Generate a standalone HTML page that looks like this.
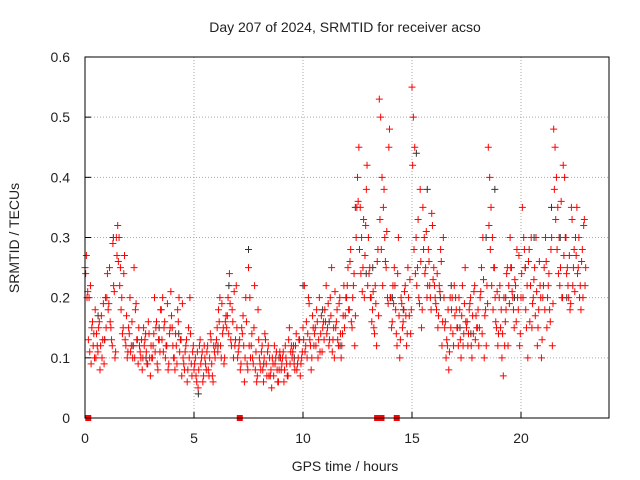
<!DOCTYPE html>
<html><head><meta charset="utf-8"><style>
body{margin:0;background:#fff;}
svg{display:block;font-family:"Liberation Sans",sans-serif;}
</style></head><body>
<svg id="chart" width="640" height="480" viewBox="0 0 640 480" xmlns="http://www.w3.org/2000/svg">
<rect width="640" height="480" fill="#fff"/>
<text x="345" y="32" text-anchor="middle" font-size="14" fill="#222">Day 207 of 2024, SRMTID for receiver acso</text>
<text x="345" y="471" text-anchor="middle" font-size="14" fill="#222">GPS time / hours</text>
<text transform="translate(19,238) rotate(-90)" text-anchor="middle" font-size="14" fill="#222">SRMTID / TECUs</text>
<g id="grid"></g><g id="ticks"></g><g id="marks"></g>
<rect x="85" y="57" width="524" height="361" fill="none" stroke="#000" stroke-width="1"/>
</svg>
<script>
const binStarts=[0,0.5,1,1.5,2,2.5,3,3.5,4,4.5,5,5.5,6,6.5,7,7.5,8,8.5,9,9.5,10,10.5,11,11.5,12,12.5,13,13.5,14,14.5,15,15.5,16,16.5,17,17.5,18,18.5,19,19.5,20,20.5,21,21.5,22,22.5];
const redValues=[
[0.25,0.27,0.21,0.2,0.22,0.15,0.12,0.1],[0.1,0.12,0.15,0.08,0.17,0.13,0.09,0.2],[0.2,0.18,0.25,0.15,0.12,0.22,0.1,0.3],[0.32,0.3,0.25,0.2,0.15,0.27,0.12,0.1],
[0.15,0.2,0.12,0.1,0.25,0.18,0.13,0.09],[0.12,0.1,0.08,0.15,0.13,0.11,0.09,0.14],[0.07,0.1,0.12,0.2,0.15,0.09,0.13,0.11],[0.18,0.2,0.15,0.1,0.12,0.08,0.14,0.21],
[0.15,0.1,0.08,0.12,0.18,0.2,0.13,0.07],[0.1,0.08,0.12,0.06,0.15,0.2,0.09,0.11],[0.08,0.1,0.06,0.05,0.12,0.09,0.11,0.07],[0.1,0.08,0.12,0.07,0.14,0.09,0.06,0.11],
[0.12,0.15,0.18,0.2,0.1,0.14,0.09,0.16],[0.15,0.2,0.24,0.13,0.18,0.1,0.12,0.22],[0.1,0.12,0.08,0.15,0.17,0.06,0.2,0.09],[0.25,0.2,0.12,0.1,0.15,0.08,0.06,0.18],
[0.1,0.08,0.12,0.06,0.14,0.09,0.11,0.07],[0.07,0.05,0.09,0.12,0.1,0.08,0.06,0.11],[0.08,0.1,0.06,0.12,0.09,0.07,0.15,0.11],[0.1,0.12,0.08,0.14,0.09,0.13,0.07,0.1],
[0.15,0.22,0.12,0.1,0.2,0.13,0.08,0.17],[0.12,0.15,0.18,0.1,0.2,0.14,0.11,0.16],[0.18,0.22,0.15,0.12,0.2,0.25,0.13,0.1],[0.15,0.18,0.12,0.2,0.1,0.14,0.22,0.17],
[0.2,0.25,0.18,0.28,0.15,0.22,0.12,0.3],[0.4,0.45,0.35,0.3,0.25,0.2,0.32,0.42],[0.3,0.25,0.2,0.18,0.15,0.22,0.12,0.28],[0.53,0.5,0.4,0.35,0.3,0.25,0.2,0.45],
[0.2,0.15,0.22,0.25,0.18,0.12,0.3,0.1],[0.2,0.15,0.18,0.22,0.12,0.25,0.17,0.14],[0.55,0.5,0.45,0.3,0.25,0.2,0.38,0.15],[0.35,0.3,0.25,0.2,0.28,0.22,0.18,0.32],
[0.25,0.2,0.18,0.15,0.22,0.28,0.12,0.3],[0.15,0.1,0.12,0.08,0.2,0.18,0.14,0.22],[0.2,0.15,0.12,0.18,0.1,0.22,0.14,0.25],[0.15,0.12,0.18,0.2,0.1,0.14,0.22,0.17],
[0.15,0.12,0.2,0.25,0.3,0.1,0.18,0.22],[0.45,0.4,0.35,0.3,0.25,0.2,0.15,0.12],[0.2,0.15,0.1,0.07,0.12,0.18,0.25,0.22],[0.3,0.25,0.2,0.15,0.22,0.28,0.18,0.12],
[0.2,0.35,0.3,0.25,0.15,0.1,0.28,0.22],[0.15,0.2,0.25,0.3,0.12,0.18,0.22,0.1],[0.2,0.25,0.3,0.15,0.22,0.18,0.28,0.12],[0.48,0.45,0.4,0.35,0.3,0.25,0.2,0.42],
[0.4,0.3,0.25,0.2,0.18,0.35,0.22,0.28],[0.3,0.35,0.25,0.2,0.18,0.28,0.32,0.22]];
const redValues2=[
[0.24,0.2,0.13,0.11,0.09,0.16,0.14,0.18],[0.14,0.11,0.16,0.12,0.1,0.19,0.13,0.15],[0.24,0.19,0.16,0.13,0.29,0.21,0.11,0.27],[0.26,0.22,0.18,0.14,0.24,0.13,0.17,0.11],
[0.14,0.11,0.16,0.12,0.1,0.19,0.13,0.15],[0.11,0.13,0.1,0.12,0.14,0.09,0.16,0.1],[0.12,0.1,0.14,0.11,0.16,0.08,0.13,0.18],[0.13,0.11,0.16,0.12,0.19,0.09,0.15,0.17],
[0.12,0.1,0.14,0.09,0.16,0.11,0.13,0.19],[0.09,0.11,0.13,0.08,0.1,0.14,0.07,0.12],[0.09,0.07,0.11,0.08,0.13,0.1,0.06,0.12],[0.09,0.11,0.08,0.1,0.13,0.07,0.12,0.1],
[0.13,0.11,0.16,0.12,0.19,0.15,0.1,0.17],[0.17,0.14,0.19,0.12,0.16,0.21,0.13,0.15],[0.11,0.13,0.09,0.14,0.12,0.1,0.16,0.08],[0.12,0.1,0.14,0.09,0.22,0.11,0.07,0.13],
[0.09,0.11,0.08,0.1,0.13,0.07,0.12,0.1],[0.08,0.1,0.07,0.09,0.11,0.06,0.08,0.1],[0.09,0.11,0.08,0.1,0.07,0.13,0.09,0.12],[0.11,0.09,0.12,0.08,0.1,0.13,0.09,0.11],
[0.13,0.11,0.16,0.14,0.19,0.12,0.1,0.15],[0.14,0.12,0.16,0.13,0.11,0.17,0.15,0.13],[0.16,0.14,0.19,0.13,0.17,0.11,0.15,0.21],[0.16,0.13,0.19,0.14,0.12,0.17,0.15,0.2],
[0.22,0.18,0.26,0.16,0.2,0.24,0.17,0.35],[0.36,0.28,0.24,0.21,0.33,0.27,0.38,0.22],[0.24,0.2,0.16,0.21,0.14,0.19,0.26,0.17],[0.33,0.28,0.22,0.38,0.26,0.31,0.19,0.48],
[0.2,0.16,0.19,0.22,0.14,0.24,0.17,0.13],[0.19,0.16,0.21,0.17,0.14,0.2,0.23,0.18],[0.42,0.28,0.24,0.22,0.33,0.19,0.26,0.18],[0.28,0.24,0.31,0.22,0.26,0.2,0.34,0.23],
[0.22,0.19,0.24,0.17,0.21,0.26,0.16,0.2],[0.16,0.13,0.18,0.11,0.15,0.2,0.12,0.17],[0.18,0.15,0.2,0.13,0.17,0.12,0.19,0.16],[0.16,0.14,0.19,0.12,0.17,0.21,0.13,0.15],
[0.18,0.15,0.21,0.14,0.23,0.17,0.12,0.19],[0.32,0.28,0.22,0.18,0.25,0.16,0.21,0.14],[0.22,0.18,0.14,0.2,0.16,0.24,0.12,0.19],[0.25,0.21,0.18,0.23,0.16,0.2,0.27,0.14],
[0.24,0.2,0.28,0.18,0.22,0.26,0.16,0.3],[0.19,0.23,0.17,0.21,0.15,0.26,0.2,0.13],[0.22,0.18,0.26,0.2,0.24,0.16,0.3,0.19],[0.38,0.33,0.28,0.24,0.22,0.36,0.2,0.27],
[0.3,0.24,0.22,0.27,0.19,0.33,0.25,0.21],[0.27,0.24,0.3,0.22,0.26,0.2,0.33,0.25]];
const blackTimes=[0.6,1.3,2.2,3.4,5.2,6.6,7.5,8.9,10.0,10.9,11.7,12.4,13.2,14.1,15.2,15.7,16.3,17.2,18.4,18.8,19.7,20.6,21.4,22.1,0.9,2.8,4.3,6.1,8.2,9.6,11.2,12.9,14.6,16.8,17.7,19.3,20.2,21.8];
const blackValues=[0.17,0.3,0.12,0.15,0.04,0.22,0.28,0.1,0.22,0.18,0.12,0.35,0.25,0.2,0.44,0.38,0.2,0.15,0.3,0.38,0.2,0.3,0.35,0.2,0.13,0.1,0.14,0.12,0.09,0.1,0.16,0.24,0.18,0.22,0.14,0.2,0.25,0.3];
const zeroTimes=[0.15,7.1,13.4,13.6,14.3];
const xTicks=[0,5,10,15,20];
const yTicks=[0,0.1,0.2,0.3,0.4,0.5,0.6];
const NS="http://www.w3.org/2000/svg";
const X=h=>85+h*21.8, Y=v=>418-v*601.7;
function mk(tag,attrs,parent){const e=document.createElementNS(NS,tag);for(const k in attrs)e.setAttribute(k,attrs[k]);parent.appendChild(e);return e;}
const grid=document.getElementById('grid'),ticks=document.getElementById('ticks'),marks=document.getElementById('marks');
xTicks.forEach(t=>{
 if(t>0){const g=mk('line',{x1:X(t),x2:X(t),y1:57,y2:418,stroke:'#aaa','stroke-dasharray':'1,2'},grid);
 
 }
 mk('line',{x1:X(t),x2:X(t),y1:418,y2:412,stroke:'#000'},ticks);
 const l=mk('text',{x:X(t),y:443,'text-anchor':'middle','font-size':'14',fill:'#222'},ticks);l.textContent=t;
 
 
});
yTicks.forEach(t=>{
 if(t>0&&t<0.6){const g=mk('line',{x1:85,x2:609,y1:Y(t),y2:Y(t),stroke:'#aaa','stroke-dasharray':'1,2'},grid);
 
 }
 mk('line',{x1:85,x2:91,y1:Y(t),y2:Y(t),stroke:'#000'},ticks);
 const l=mk('text',{x:70,y:Y(t)+5,'text-anchor':'end','font-size':'14',fill:'#222'},ticks);l.textContent=t===0?'0':t.toFixed(1);
 
 
});
function plus(h,v,color,name){const x=X(h),y=Y(v);
 const p=mk('path',{d:`M${x-3.5},${y}H${x+3.5}M${x},${y-3.5}V${y+3.5}`,stroke:color,'stroke-width':'1',fill:'none'},marks);
 
 }
blackTimes.forEach((t,i)=>plus(t,blackValues[i],'#333','black-point'));
binStarts.forEach((b,i)=>redValues[i].forEach((v,j)=>plus(b+j*0.0625,v,'#f00','red-point')));
binStarts.forEach((b,i)=>redValues2[i].forEach((v,j)=>plus(b+0.03+j*0.0625,v,'#f00','red-point')));
zeroTimes.forEach(t=>{const r=mk('rect',{x:X(t)-3,y:415,width:6,height:6,fill:'#f00'},marks);
 
 });
</script>
</body></html>
